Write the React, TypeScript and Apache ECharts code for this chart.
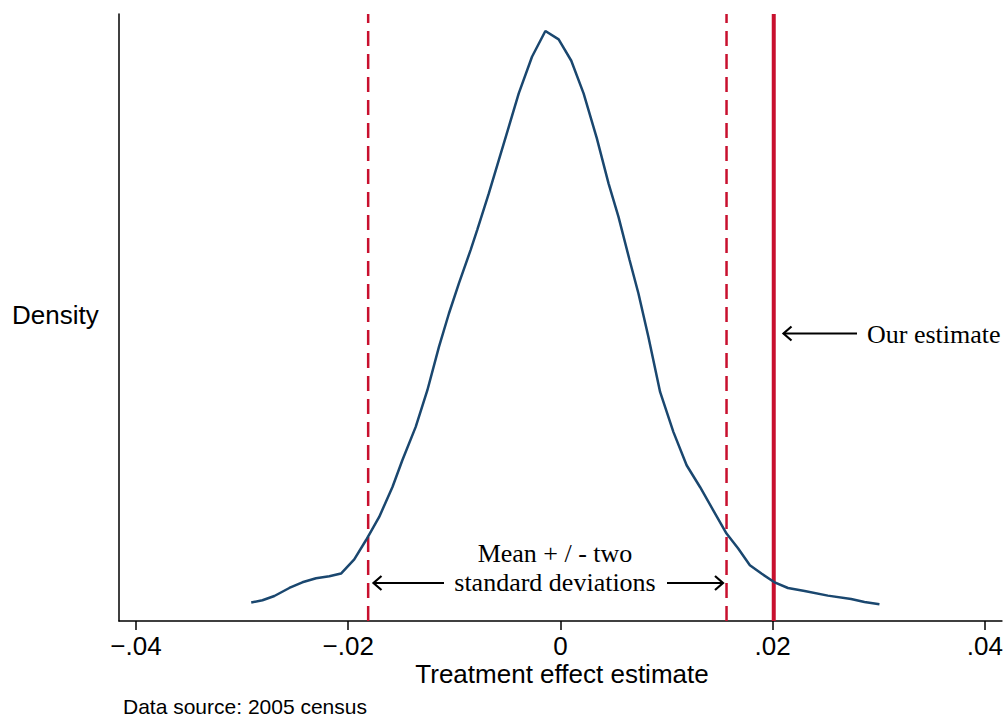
import React, { useEffect, useRef } from "react";
import * as echarts from "echarts";

// Kernel density estimate (x = treatment effect estimate, y = density)
const densityX = [
  -0.02914, -0.02808, -0.02696, -0.02555, -0.02432, -0.02303, -0.02178, -0.02068, -0.01943, -0.01833,
  -0.01708, -0.01583, -0.0149, -0.01364, -0.01254, -0.01145, -0.01051, -0.00957, -0.00847, -0.00785,
  -0.00675, -0.00581, -0.00487, -0.00393, -0.00268, -0.00142, -0.00017, 0.00102, 0.00218, 0.00343,
  0.00453, 0.00547, 0.0065, 0.00735, 0.00829, 0.00939, 0.01064, 0.01189, 0.01315, 0.0144,
  0.01565, 0.01675, 0.01785, 0.01894, 0.02013, 0.02144, 0.02301, 0.0252, 0.02739, 0.02865, 0.03006,
];
const densityY = [
  1.52, 1.71, 2.06, 2.72, 3.19, 3.52, 3.68, 3.91, 5.08, 6.65,
  8.57, 11.04, 13.24, 15.99, 19.01, 22.58, 25.33, 27.81, 30.55, 32.2,
  35.22, 37.97, 40.71, 43.46, 46.48, 48.6, 47.91, 46.15, 43.46, 39.75,
  36.05, 33.29, 29.78, 26.98, 23.4, 18.87, 15.58, 12.83, 11.04, 9.12,
  7.2, 5.97, 4.59, 3.91, 3.21, 2.72, 2.47, 2.09, 1.81, 1.57, 1.38,
];
const lowerBound = -0.01812;
const upperBound = 0.01565;
const ourEstimate = 0.0201;
const xTicks = [-0.04, -0.02, 0, 0.02, 0.04];
const xMin = -0.0416;
const xMax = 0.0416;
const yMin = 0;
const yMax = 50;

const NAVY = "#1a476f";
const RED = "#c8102e";
const SANS = "'Liberation Sans', Arial, sans-serif";
const SERIF = "'Liberation Serif', 'Times New Roman', serif";

function arrow(x1: number, y1: number, x2: number, y2: number) {
  // tip at (x2, y2), horizontal arrows
  const dir = x2 > x1 ? -1 : 1;
  return [
    { type: "line", shape: { x1, y1, x2, y2 }, style: { stroke: "#000", lineWidth: 2.2 } },
    {
      type: "polyline",
      shape: { points: [[x2 + dir * 8, y2 - 7], [x2, y2], [x2 + dir * 8, y2 + 7]] },
      style: { stroke: "#000", lineWidth: 2.2, fill: "none" },
    },
  ];
}

function fmtTick(v: number) {
  if (v === 0) return "0";
  const s = Math.abs(v).toFixed(2).replace(/^0/, "");
  return v < 0 ? "\u2212" + s : s;
}

export default function App() {
  const ref = useRef<HTMLDivElement>(null);
  useEffect(() => {
    if (!ref.current) return;
    const chart = echarts.init(ref.current, null, { renderer: "svg" });
    const curve = densityX.map((x, i) => [x, densityY[i]]);
    chart.setOption({
      animation: false,
      backgroundColor: "#fff",
      grid: { left: 119, right: 2, top: 14, bottom: 98 },
      xAxis: {
        type: "value",
        min: xMin,
        max: xMax,
        splitLine: { show: false },
        axisLine: { show: true, onZero: false, lineStyle: { color: "#000", width: 1.5 } },
        axisTick: { show: true, customValues: xTicks, length: 9, lineStyle: { color: "#000", width: 1.5 } },
        axisLabel: {
          customValues: xTicks,
          formatter: (v: number) => fmtTick(v),
          color: "#000",
          fontSize: 26,
          fontFamily: SANS,
          margin: 12,
        },
      },
      yAxis: {
        type: "value",
        min: yMin,
        max: yMax,
        splitLine: { show: false },
        axisLine: { show: true, onZero: false, lineStyle: { color: "#000", width: 1.5 } },
        axisTick: { show: false },
        axisLabel: { show: false },
      },
      series: [
        {
          type: "line",
          data: [[lowerBound, yMin], [lowerBound, yMax]],
          symbol: "none",
          lineStyle: { color: RED, width: 2.5, type: [15, 8] },
          silent: true,
        },
        {
          type: "line",
          data: [[upperBound, yMin], [upperBound, yMax]],
          symbol: "none",
          lineStyle: { color: RED, width: 2.5, type: [15, 8] },
          silent: true,
        },
        {
          type: "line",
          data: [[ourEstimate, yMin], [ourEstimate, yMax]],
          symbol: "none",
          lineStyle: { color: RED, width: 4 },
          silent: true,
        },
        {
          type: "line",
          data: curve,
          symbol: "none",
          lineStyle: { color: NAVY, width: 2.5 },
          z: 3,
        },
      ],
      graphic: [
        {
          type: "text",
          left: 12,
          top: 302,
          style: { text: "Density", fill: "#000", font: `26px ${SANS}` },
        },
        {
          type: "text",
          x: 562,
          y: 674,
          style: { text: "Treatment effect estimate", fill: "#000", font: `26px ${SANS}`, align: "center", verticalAlign: "middle" },
        },
        {
          type: "text",
          x: 123,
          y: 706,
          style: { text: "Data source: 2005 census", fill: "#000", font: `21px ${SANS}`, align: "left", verticalAlign: "middle" },
        },
        {
          type: "text",
          x: 867,
          y: 334,
          style: { text: "Our estimate", fill: "#000", font: `26px ${SERIF}`, align: "left", verticalAlign: "middle" },
        },
        {
          type: "text",
          x: 555,
          y: 553,
          style: { text: "Mean + / - two", fill: "#000", font: `26px ${SERIF}`, align: "center", verticalAlign: "middle" },
        },
        {
          type: "text",
          x: 555,
          y: 582,
          style: { text: "standard deviations", fill: "#000", font: `26px ${SERIF}`, align: "center", verticalAlign: "middle" },
        },
        ...arrow(857, 333.5, 783.5, 333.5),
        ...arrow(444, 583, 373.5, 583),
        ...arrow(667, 583, 723, 583),
      ],
    });
    return () => chart.dispose();
  }, []);
  return (
    <div
      ref={ref}
      style={{ position: "absolute", left: 0, top: 0, width: 1006, height: 719, background: "#fff" }}
    />
  );
}
